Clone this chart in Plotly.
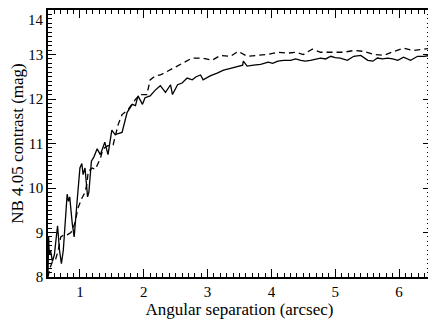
import plotly.graph_objects as go

# solid curve (angular separation in arcsec, contrast in mag)
sep_solid = [0.50, 0.51, 0.52, 0.54, 0.57, 0.60, 0.63, 0.65, 0.68, 0.71, 0.74, 0.78, 0.80, 0.82,
             0.84, 0.88, 0.91, 0.95, 1.00, 1.03, 1.05, 1.08, 1.12, 1.14, 1.18, 1.22, 1.27, 1.32,
             1.39, 1.44, 1.50, 1.55, 1.60, 1.66, 1.74, 1.82, 1.87, 1.91, 1.98, 2.02, 2.10, 2.18,
             2.26, 2.34, 2.42, 2.45, 2.53, 2.60, 2.68, 2.76, 2.82, 2.89, 2.93, 3.04, 3.15, 3.25,
             3.36, 3.47, 3.55, 3.56, 3.62, 3.72, 3.83, 3.95, 4.02, 4.10, 4.19, 4.30, 4.38, 4.46,
             4.53, 4.61, 4.69, 4.77, 4.85, 4.93, 5.00, 5.08, 5.19, 5.29, 5.40, 5.51, 5.59, 5.66,
             5.74, 5.82, 5.90, 5.98, 6.07, 6.18, 6.29, 6.39, 6.50]
contrast_solid = [8.05, 8.9, 8.5, 8.6, 8.35, 8.5, 8.9, 9.15, 8.6, 8.3, 8.6, 9.6, 9.86, 9.7,
                  9.8, 9.2, 8.9, 9.6, 10.45, 10.55, 10.3, 10.45, 9.8, 9.9, 10.6, 10.7, 10.88, 10.75,
                  11.03, 10.75, 11.3, 11.2, 11.22, 11.25, 11.7, 11.88, 11.85, 12.07, 11.88, 12.03, 12.07, 12.2,
                  12.3, 12.15, 12.32, 12.1, 12.32, 12.36, 12.47, 12.43, 12.5, 12.54, 12.43, 12.52, 12.58, 12.65,
                  12.69, 12.74, 12.76, 12.85, 12.74, 12.76, 12.78, 12.83, 12.8, 12.85, 12.87, 12.87, 12.9, 12.87,
                  12.85, 12.87, 12.9, 12.92, 12.9, 12.96, 12.93, 12.92, 12.87, 12.96, 12.98, 12.87, 12.85, 12.92,
                  12.9, 12.92, 12.9, 12.87, 12.94, 12.87, 12.96, 12.96, 12.98]

# dashed curve
sep_dash = [0.50, 0.53, 0.57, 0.62, 0.66, 0.70, 0.75, 0.80, 0.86, 0.92, 0.97, 1.03, 1.08, 1.11,
            1.13, 1.19, 1.24, 1.32, 1.36, 1.44, 1.52, 1.60, 1.66, 1.76, 1.87, 1.94, 2.05, 2.10,
            2.18, 2.26, 2.38, 2.53, 2.62, 2.76, 2.92, 3.07, 3.20, 3.36, 3.48, 3.62, 3.78, 3.94,
            4.10, 4.25, 4.38, 4.50, 4.64, 4.77, 4.93, 5.13, 5.29, 5.45, 5.60, 5.76, 5.92, 6.07,
            6.23, 6.39, 6.50]
contrast_dash = [8.0, 8.2, 8.35, 8.4, 8.6, 8.9, 8.95, 8.95, 9.0, 9.2, 9.55, 9.77, 9.9, 10.1,
                 10.37, 10.45, 10.42, 10.66, 10.88, 10.95, 10.97, 11.43, 11.65, 11.77, 11.99, 12.1, 12.1, 12.43,
                 12.52, 12.54, 12.63, 12.74, 12.8, 12.92, 12.92, 12.87, 12.98, 12.96, 13.07, 12.96, 12.98, 13.0,
                 13.05, 13.03, 13.05, 13.0, 13.12, 13.05, 13.05, 13.05, 13.09, 13.07, 13.0, 12.98, 13.07, 13.14,
                 13.09, 13.12, 13.14]

x_ticks = [1, 2, 3, 4, 5, 6]
y_ticks = [8, 9, 10, 11, 12, 13]
y_top_label = 14  # top label sits at the edge of the figure, drawn as annotation

serif = "Times New Roman"

fig = go.Figure()
fig.add_trace(go.Scatter(x=sep_solid, y=contrast_solid, mode="lines",
                         line=dict(color="black", width=1.3), showlegend=False))
fig.add_trace(go.Scatter(x=sep_dash, y=contrast_dash, mode="lines",
                         line=dict(color="black", width=1.3, dash="6px,4px"), showlegend=False))

# axes styled like the IDL plot: box frame, inward ticks, minor ticks
fig.update_xaxes(range=[0.5, 6.5], tickvals=x_ticks, showgrid=False, zeroline=False,
                 showline=True, linecolor="black", linewidth=1.5, mirror="allticks",
                 ticks="inside", ticklen=8, tickcolor="black",
                 tickfont=dict(family=serif, size=15, color="black"),
                 minor=dict(ticks="inside", ticklen=4, tickcolor="black", dtick=0.1),
                 title=dict(text="Angular separation (arcsec)",
                            font=dict(family=serif, size=17, color="black"), standoff=4))
fig.update_yaxes(range=[8, 14], tickvals=y_ticks + [y_top_label], ticktext=[str(v) for v in y_ticks] + [""],
                 showgrid=False, zeroline=False,
                 showline=True, linecolor="black", linewidth=1.5, mirror="allticks",
                 ticks="inside", ticklen=8, tickcolor="black",
                 tickfont=dict(family=serif, size=15, color="black"),
                 minor=dict(ticks="inside", ticklen=4, tickcolor="black", dtick=0.1),
                 title=dict(text="NB 4.05 contrast (mag)",
                            font=dict(family=serif, size=17, color="black"), standoff=2))

fig.add_annotation(x=0, xref="paper", xanchor="right", xshift=-2,
                   y=y_top_label, yref="y", yanchor="top",
                   text=str(y_top_label), showarrow=False,
                   font=dict(family=serif, size=15, color="black"))

# the page body adds an 8px offset, so the figure is sized to fit the window
fig.update_layout(width=428, height=315, margin=dict(l=40, r=5, t=0, b=46, pad=0),
                  paper_bgcolor="white", plot_bgcolor="white",
                  font=dict(family=serif, size=15, color="black"))

fig.write_html("out.html")
